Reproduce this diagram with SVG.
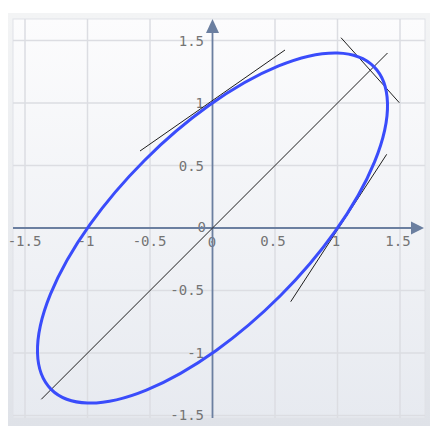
<svg xmlns="http://www.w3.org/2000/svg" width="430" height="426" viewBox="0 0 430 426">
<defs>
<linearGradient id="bg" x1="0" y1="0" x2="0" y2="1">
<stop offset="0" stop-color="#fcfcfd"/>
<stop offset="1" stop-color="#e7eaf0"/>
</linearGradient>
<linearGradient id="outer" x1="0" y1="0" x2="0" y2="1">
<stop offset="0" stop-color="#f3f4f5"/>
<stop offset="1" stop-color="#dfe2e8"/>
</linearGradient>
</defs>
<style>
.grid{stroke:#dcdde2;stroke-width:1.5;fill:none}
.axis{stroke:#6b7fa0;stroke-width:1.8;fill:none}
.head{fill:#6b7fa0}
.lbl{font-family:"DejaVu Sans Mono",monospace;font-size:14px;fill:#747474}
.ylbl{text-anchor:end}
.xlbl{text-anchor:middle}
.thin{stroke:#1e1e1e;stroke-width:1;fill:none}
.curve{stroke:#3a4cfb;stroke-width:3;fill:none}
</style>
<rect x="0" y="0" width="430" height="426" fill="#ffffff"/>
<rect x="8" y="13" width="422" height="413" fill="url(#outer)"/>
<rect x="13" y="19" width="412" height="399" fill="url(#bg)" stroke="#e0e2e7" stroke-width="1"/>
<g id="grid">
<path class="grid" d="M25,19V418M87.5,19V418M150,19V418M275,19V418M337.5,19V418M400,19V418"/>
<path class="grid" d="M13,40.5H425M13,103H425M13,165.5H425M13,290.5H425M13,353H425M13,415.5H425"/>
</g>
<g id="labels" class="lbl">
<text class="ylbl" x="204" y="46">1.5</text>
<text class="ylbl" x="204" y="108">1</text>
<text class="ylbl" x="204" y="170.5">0.5</text>
<text class="ylbl" x="206" y="232">0</text>
<text class="ylbl" x="204" y="295">-0.5</text>
<text class="ylbl" x="204" y="358">-1</text>
<text class="ylbl" x="204" y="420">-1.5</text>
<text class="xlbl" x="24.5" y="246">-1.5</text>
<text class="xlbl" x="86" y="246">-1</text>
<text class="xlbl" x="149.5" y="246">-0.5</text>
<text class="xlbl" x="212" y="247">0</text>
<text class="xlbl" x="273" y="246">0.5</text>
<text class="xlbl" x="336" y="246">1</text>
<text class="xlbl" x="398" y="246">1.5</text>
</g>
<g id="axes">
<path class="axis" d="M13,228H413"/>
<path class="axis" d="M212.5,418V32"/>
<path class="head" d="M424,228L411,221.5V234.5Z"/>
<path class="head" d="M212.5,19L206,33H219Z"/>
</g>
<g id="connectors">
<path class="thin" d="M41.3,399.3L387.5,53"/>
<path class="thin" d="M341,37.7L399.3,102.7"/>
<path class="thin" d="M140,151L285,50"/>
<path class="thin" d="M290.7,301.7L386.7,154.3"/>
</g>
<g id="ellipse">
<ellipse class="curve" cx="212.5" cy="228" rx="228.2" ry="95.9" transform="rotate(-45 212.5 228)"/>
</g>
</svg>
